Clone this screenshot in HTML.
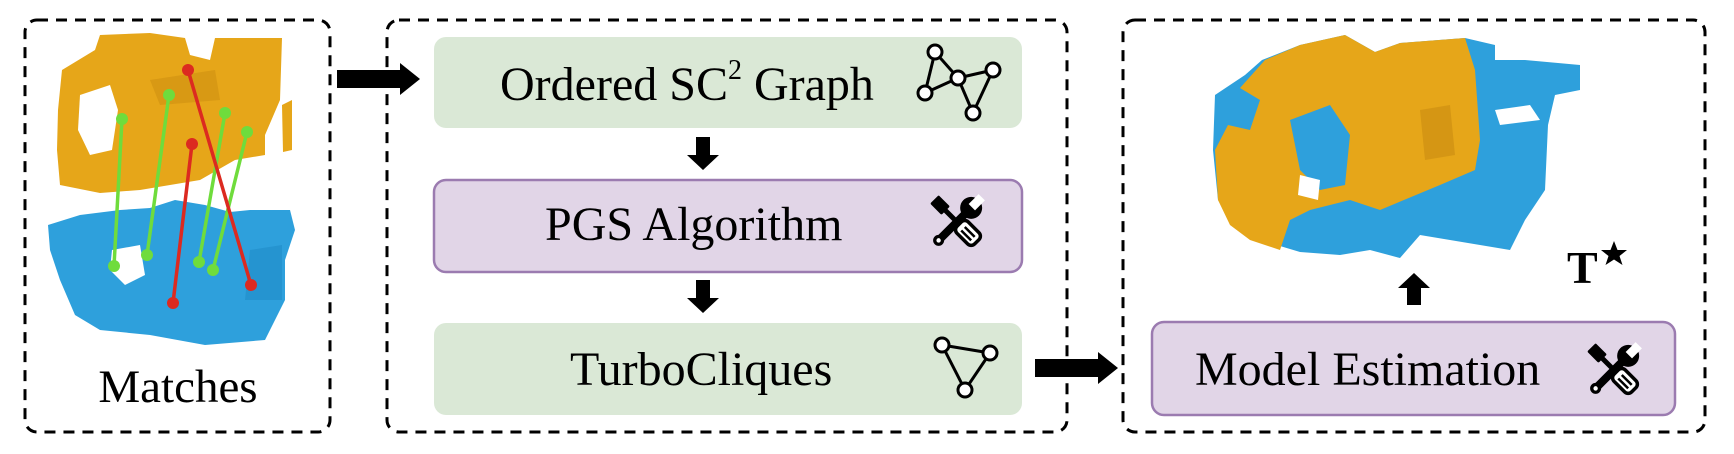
<!DOCTYPE html>
<html><head><meta charset="utf-8"><style>
html,body{margin:0;padding:0;background:#fff;}
body{width:1734px;height:454px;overflow:hidden;position:relative;}
svg{position:absolute;left:0;top:0;}
text{font-family:"Liberation Serif",serif;fill:#000;}
</style></head><body>
<svg width="1734" height="454" viewBox="0 0 1734 454">
<defs>
<g id="tools">
  <g transform="rotate(-45)">
    <line x1="-26" y1="0" x2="12" y2="0" stroke="#000" stroke-width="8" stroke-linecap="round"/>
    <circle cx="-26" cy="0" r="5.5" fill="#000"/>
    <circle cx="-26" cy="0" r="2.2" fill="#fff"/>
    <circle cx="20" cy="0" r="11" fill="#000"/>
    <rect x="21" y="-4.5" width="14" height="9" fill="#fff"/>
  </g>
  <g transform="rotate(45)">
    <rect x="-32" y="-6" width="16" height="12" rx="1.5" fill="#000"/>
    <rect x="-17" y="-2.5" width="20" height="5" fill="#000"/>
    <rect x="3" y="-8" width="25" height="16" rx="5" fill="#fff" stroke="#000" stroke-width="3.5"/>
    <line x1="9" y1="-2" x2="23" y2="-2" stroke="#000" stroke-width="2.5"/>
    <line x1="9" y1="3" x2="23" y2="3" stroke="#000" stroke-width="2.5"/>
  </g>
</g>
</defs>

<!-- dashed containers -->
<rect x="25" y="20" width="305" height="412" rx="12" fill="none" stroke="#000" stroke-width="3" stroke-dasharray="11 8"/>
<rect x="387" y="20" width="680" height="412" rx="12" fill="none" stroke="#000" stroke-width="3" stroke-dasharray="11 8"/>
<rect x="1123" y="20" width="582" height="412" rx="12" fill="none" stroke="#000" stroke-width="3" stroke-dasharray="11 8"/>

<!-- left point clouds -->
<path d="M62,70 L95,50 L100,35 L150,33 L185,38 L190,55 L210,60 L215,38 L282,38 L280,100 L265,135 L265,155 L235,160 L200,180 L140,190 L100,193 L60,185 L57,150 L58,110 Z" fill="#e6a619"/>
<path d="M80,95 L110,85 L118,110 L112,150 L90,155 L78,130 Z" fill="#fff"/>
<path d="M150,80 L215,70 L220,100 L160,105 Z" fill="#c98c10" opacity="0.5"/>
<path d="M282,105 L292,100 L292,150 L283,152 Z" fill="#e6a619"/>
<path d="M48,225 L80,215 L120,210 L150,208 L175,200 L205,205 L230,212 L250,210 L290,210 L295,230 L285,260 L285,300 L265,340 L205,345 L150,335 L100,330 L75,315 L60,280 L50,250 Z" fill="#2ea0dc"/>
<path d="M112,250 L140,245 L145,275 L125,285 L110,270 Z" fill="#fff"/>
<path d="M250,250 L282,245 L282,300 L245,300 Z" fill="#1f8cc8" opacity="0.6"/>
<g stroke-width="3.5" stroke-linecap="round">
<line x1="122" y1="119" x2="114" y2="266" stroke="#6fdc3c"/>
<line x1="169" y1="95" x2="147" y2="255" stroke="#6fdc3c"/>
<line x1="225" y1="113" x2="199" y2="262" stroke="#6fdc3c"/>
<line x1="247" y1="132" x2="213" y2="270" stroke="#6fdc3c"/>
<line x1="188" y1="70" x2="251" y2="285" stroke="#dc2a20"/>
<line x1="192" y1="144" x2="173" y2="303" stroke="#dc2a20"/>
</g>
<g fill="#6fdc3c"><circle cx="122" cy="119" r="6"/><circle cx="114" cy="266" r="6"/><circle cx="169" cy="95" r="6"/><circle cx="147" cy="255" r="6"/><circle cx="225" cy="113" r="6"/><circle cx="199" cy="262" r="6"/><circle cx="247" cy="132" r="6"/><circle cx="213" cy="270" r="6"/></g>
<g fill="#dc2a20"><circle cx="188" cy="70" r="6"/><circle cx="251" cy="285" r="6"/><circle cx="192" cy="144" r="6"/><circle cx="173" cy="303" r="6"/></g>
<text x="178" y="402" font-size="47" text-anchor="middle">Matches</text>

<!-- arrow into middle -->
<path d="M337,70 L400,70 L400,63 L420,79 L400,95 L400,88 L337,88 Z" fill="#000"/>

<!-- middle boxes -->
<rect x="434" y="37" width="588" height="91" rx="12" fill="#dae8d6"/>
<text x="500" y="100" font-size="48">Ordered SC<tspan font-size="28" dy="-21">2</tspan><tspan dy="21"> Graph</tspan></text>
<g stroke="#000" stroke-width="3" fill="#fff">
<line x1="935" y1="52" x2="925" y2="93"/><line x1="935" y1="52" x2="958" y2="78"/><line x1="925" y1="93" x2="958" y2="78"/>
<line x1="958" y1="78" x2="993" y2="70"/><line x1="993" y1="70" x2="973" y2="113"/><line x1="958" y1="78" x2="973" y2="113"/>
<circle cx="935" cy="52" r="7"/><circle cx="958" cy="78" r="7"/><circle cx="993" cy="70" r="7"/><circle cx="925" cy="93" r="7"/><circle cx="973" cy="113" r="7"/>
</g>

<path d="M696,137 L710,137 L710,155 L719,155 L703,170 L687,155 L696,155 Z" fill="#000"/>

<rect x="434" y="180" width="588" height="92" rx="12" fill="#e1d5e7" stroke="#9b7bb0" stroke-width="2.5"/>
<text x="545" y="240" font-size="48">PGS Algorithm</text>
<use href="#tools" transform="translate(957 222)"/>

<path d="M696,280 L710,280 L710,298 L719,298 L703,313 L687,298 L696,298 Z" fill="#000"/>

<rect x="434" y="323" width="588" height="92" rx="12" fill="#dae8d6"/>
<text x="570" y="385" font-size="48">TurboCliques</text>
<g stroke="#000" stroke-width="3" fill="#fff">
<line x1="942" y1="345" x2="990" y2="353"/><line x1="990" y1="353" x2="965" y2="390"/><line x1="942" y1="345" x2="965" y2="390"/>
<circle cx="942" cy="345" r="7"/><circle cx="990" cy="353" r="7"/><circle cx="965" cy="390" r="7"/>
</g>

<!-- arrow to right -->
<path d="M1035,359 L1098,359 L1098,352 L1118,368 L1098,384 L1098,377 L1035,377 Z" fill="#000"/>

<!-- right point cloud -->
<path d="M1215,95 L1245,75 L1262,60 L1300,45 L1345,35 L1375,52 L1400,43 L1465,38 L1495,45 L1495,60 L1525,60 L1580,65 L1580,90 L1555,95 L1548,125 L1545,190 L1525,220 L1510,250 L1480,245 L1420,235 L1400,258 L1370,250 L1340,255 L1300,252 L1260,240 L1235,225 L1218,200 L1213,150 Z" fill="#2ea0dc"/>
<path d="M1240,88 L1265,60 L1300,45 L1345,35 L1375,52 L1400,43 L1465,38 L1475,70 L1480,140 L1475,170 L1440,185 L1380,210 L1350,200 L1310,210 L1290,220 L1280,250 L1250,240 L1230,225 L1218,200 L1215,150 L1228,125 L1250,130 L1260,100 Z" fill="#e6a619"/>
<path d="M1290,120 L1330,105 L1350,135 L1345,185 L1320,190 L1300,170 Z" fill="#2ea0dc"/>
<path d="M1420,110 L1450,105 L1455,155 L1425,160 Z" fill="#c98c10" opacity="0.6"/>
<path d="M1495,110 L1530,105 L1540,120 L1500,125 Z" fill="#fff"/>
<path d="M1300,175 L1320,180 L1318,200 L1298,195 Z" fill="#fff"/>

<path d="M1407,305 L1421,305 L1421,288 L1430,288 L1414,273 L1398,288 L1407,288 Z" fill="#000"/>
<text x="1567" y="283" font-size="46" font-weight="bold">T</text>
<polygon points="1614,241 1617.5,250 1627,250 1619.5,256 1622.5,265 1614,259.5 1605.5,265 1608.5,256 1601,250 1610.5,250" fill="#000"/>

<rect x="1152" y="322" width="523" height="93" rx="12" fill="#e1d5e7" stroke="#9b7bb0" stroke-width="2.5"/>
<text x="1195" y="385" font-size="48">Model Estimation</text>
<use href="#tools" transform="translate(1614 370)"/>
</svg>
</body></html>
